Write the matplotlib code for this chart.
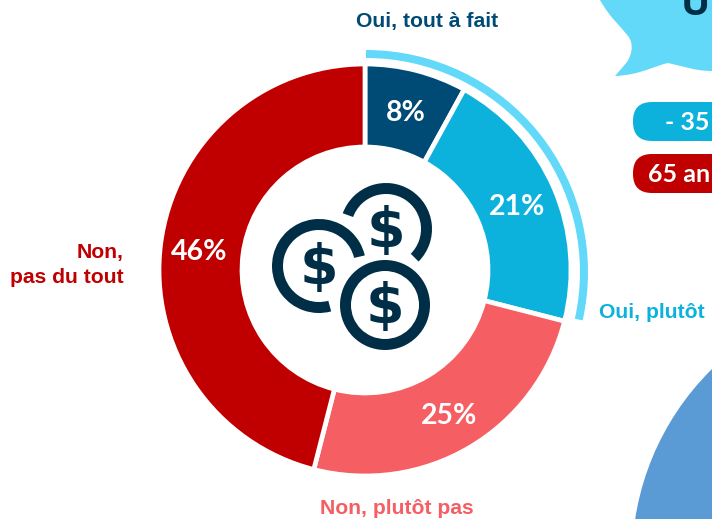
import matplotlib
matplotlib.use('Agg')
import matplotlib.pyplot as plt
from matplotlib.patches import Circle, FancyBboxPatch, PathPatch, Wedge
from matplotlib.path import Path

labels = ['Oui, tout à fait', 'Oui, plutôt', 'Non, plutôt pas', 'Non,\npas du tout']
values = [8, 21, 25, 46]
colors = ['#004b75', '#0db2dc', '#f55f63', '#c00000']
arc_share = 28.5
pills = ['- 35', '65 an']
pill_colors = ['#0db2dc', '#c00000']

H = 519
dark = '#002e47'
light = '#62d9f9'


def py(y):
    return H - y


fig = plt.figure(figsize=(7.12, 5.19), dpi=100)
ax = fig.add_axes([0, 0, 1, 1])

cx, cy = 365, py(270)
ax.pie(values, colors=colors, startangle=90, counterclock=False, center=(cx, cy), radius=206,
       wedgeprops=dict(width=83, edgecolor='white', linewidth=3.4))
# outer arc over the two "oui" slices
ax.pie([arc_share, 100 - arc_share], colors=[light, 'none'], startangle=90, counterclock=False,
       center=(cx + 1, py(272)), radius=222, wedgeprops=dict(width=8, linewidth=0))
ax.set_xlim(0, 712)
ax.set_ylim(0, H)
ax.set_aspect('equal')
ax.axis('off')

pct_pos = [(406, 113), (517, 207), (449, 416), (199, 252)]
for v, (x, y) in zip(values, pct_pos):
    ax.text(x, py(y), f'{v}%', color='white', fontsize=20.5, fontweight='bold', family='Lato',
            ha='center', va='center')

sans = 'Liberation Sans'
ax.text(427.5, py(22), labels[0], color=colors[0], fontsize=15.2, fontweight='bold', family=sans,
        ha='center', va='center')
ax.text(599, py(312), labels[1], color=colors[1], fontsize=15.2, fontweight='bold', family=sans,
        ha='left', va='center')
ax.text(397, py(508), labels[2], color=colors[2], fontsize=15.2, fontweight='bold', family=sans,
        ha='center', va='center')
ax.text(124, py(265), labels[3], color=colors[3], fontsize=15.2, fontweight='bold', family=sans,
        ha='right', va='center', multialignment='right', linespacing=1.45)

# coins
coins = [(386, 229, 46, -45, 160), (319, 266, 47, 13, 285), (385, 305, 45, 0, 360)]
for x, y, r, a1, a2 in coins:
    ax.add_patch(Wedge((x, py(y)), r, a1, a2, width=11, color=dark, linewidth=0))
    ax.text(x, py(y - 3), '$', color=dark, fontsize=40, fontweight='bold', family='DejaVu Sans',
            ha='center', va='center_baseline')

# speech bubble, cut by the right edge
verts = [(600, 0), (610, 18), (622, 28), (628, 36), (634, 44), (632, 54), (627, 62),
         (622, 68), (615, 76), (615, 76), (640, 75), (654, 66), (668, 63),
         (682, 66), (695, 71), (712, 71), (712, 0), (600, 0)]
codes = [Path.MOVETO] + [Path.CURVE4] * 15 + [Path.LINETO, Path.CLOSEPOLY]
ax.add_patch(PathPatch(Path([(x, py(y)) for x, y in verts], codes), facecolor=light, edgecolor='none'))
ax.text(695, py(15), 'U', color=dark, fontsize=28, fontweight='bold', family='Open Sans',
        ha='center', va='baseline')

# age pills
for txt, col, top, bottom, tx in zip(pills, pill_colors, [102, 154], [141, 193], [665, 648]):
    ax.add_patch(FancyBboxPatch((652, py(bottom) + 19), 100, bottom - top - 38,
                                boxstyle='round,pad=19,rounding_size=19', facecolor=col, edgecolor='none'))
    ax.text(tx, py((top + bottom) / 2 + 1), txt, color='white', fontsize=18,
            fontweight='bold', family='Lato', ha='left', va='center')

ax.add_patch(Circle((900, py(560)), 268, color='#5b9bd5', linewidth=0))

fig.savefig('out.png', dpi=100)
